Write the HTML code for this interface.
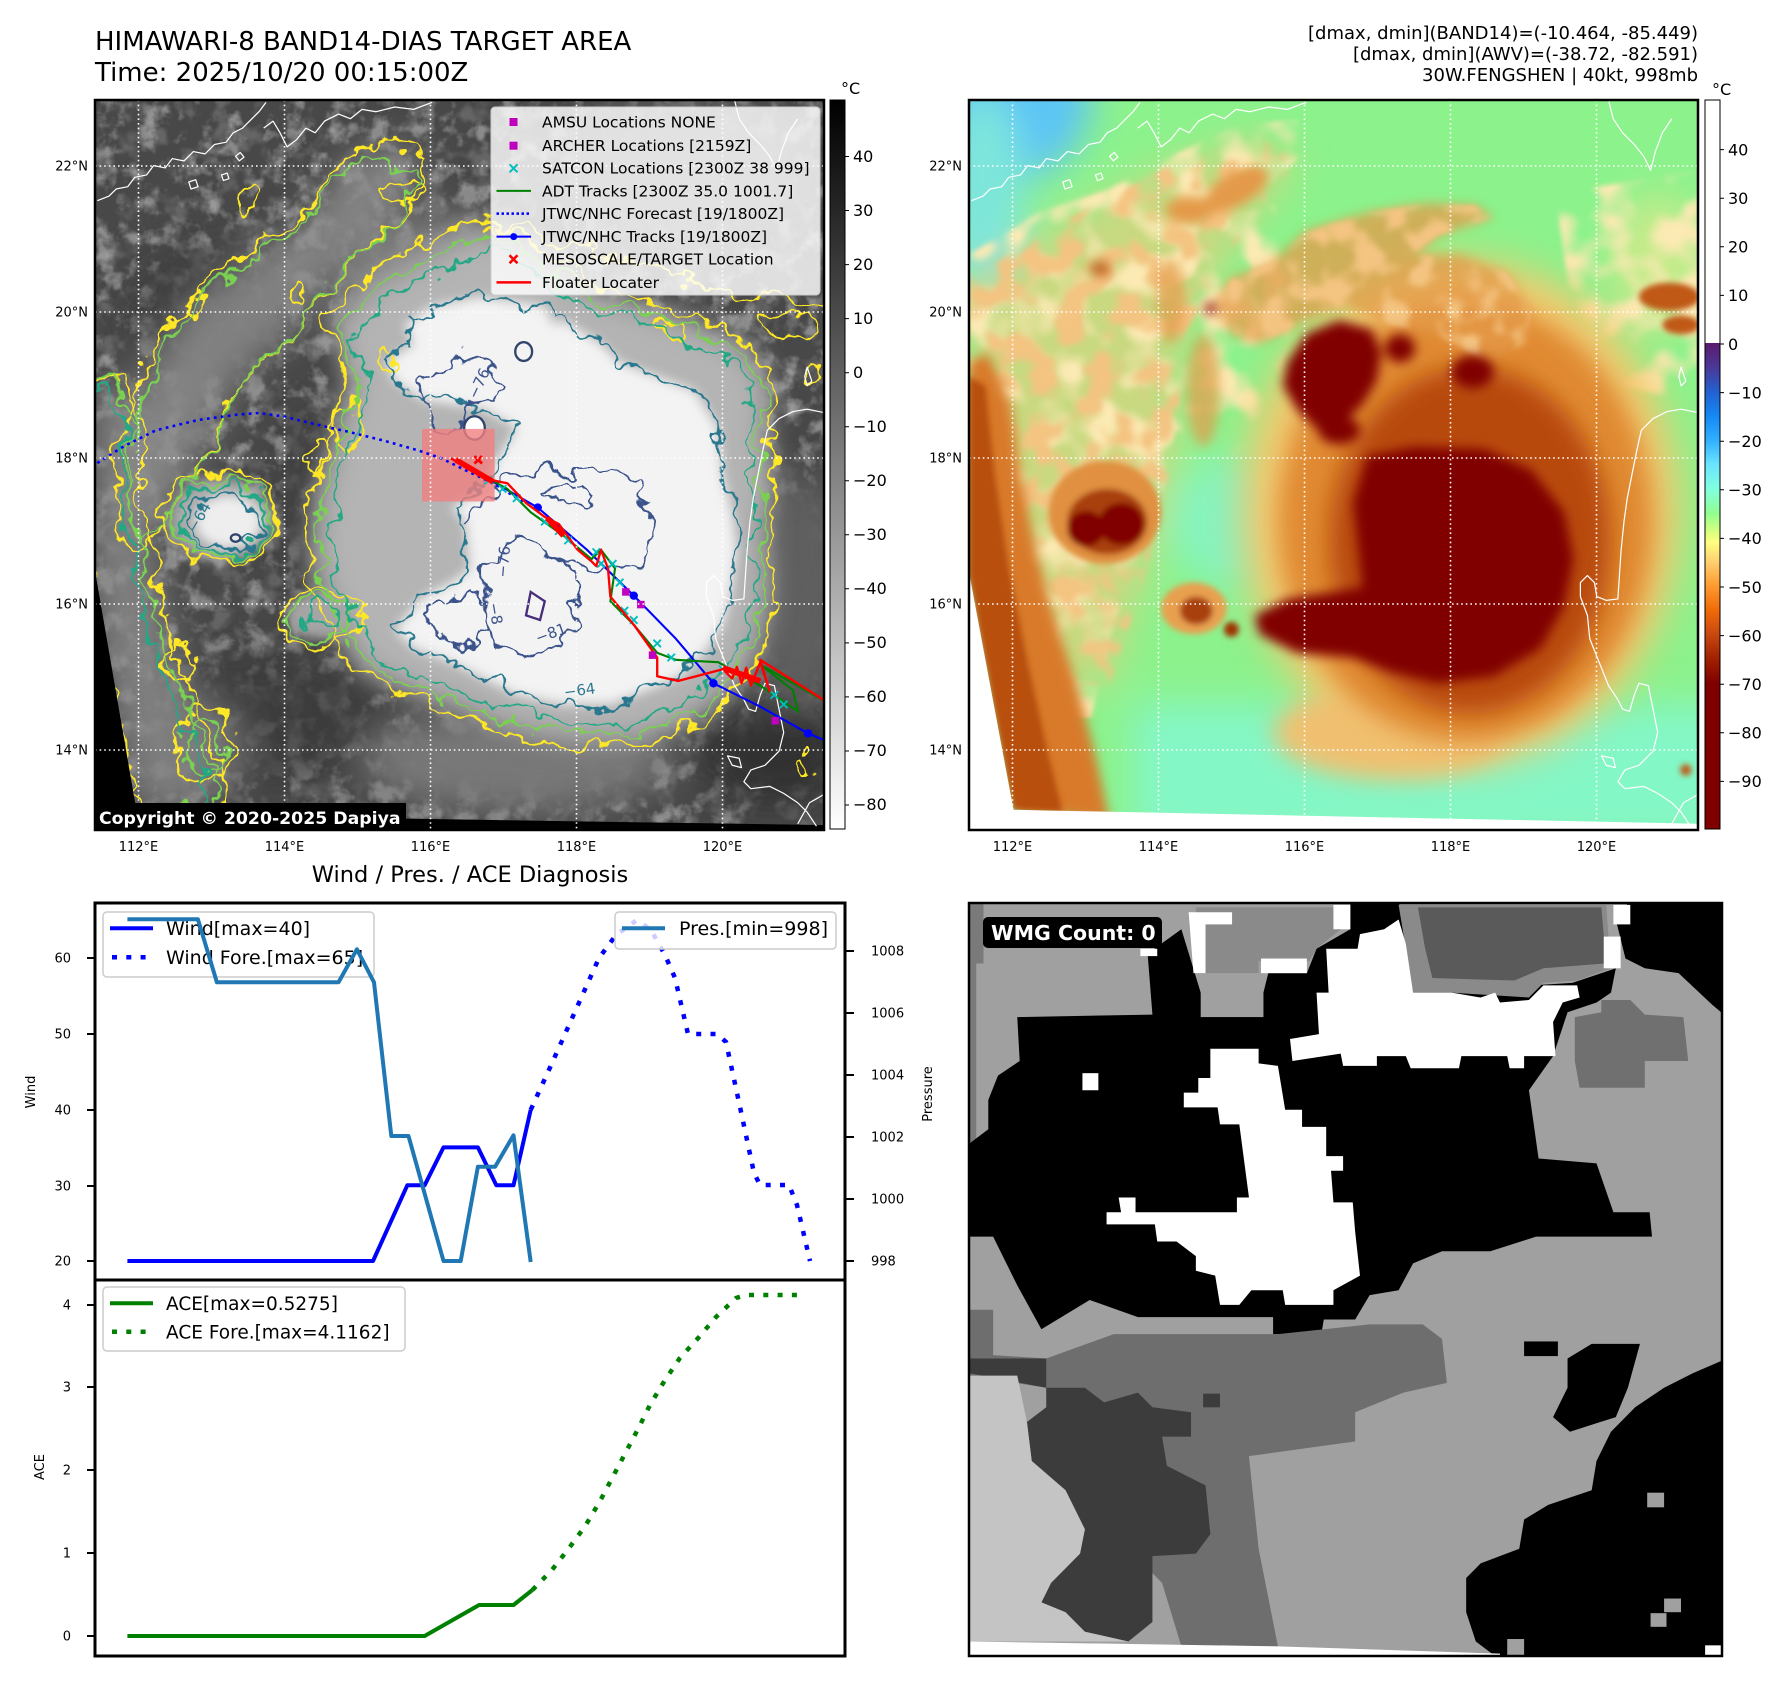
<!DOCTYPE html>
<html><head><meta charset="utf-8">
<style>
html,body{margin:0;padding:0;background:#fff;}
svg{display:block;}
text{font-family:"DejaVu Sans","Liberation Sans",sans-serif;}
</style></head><body>
<svg width="1788" height="1690" viewBox="0 0 1788 1690" xmlns="http://www.w3.org/2000/svg">
<defs>
 <clipPath id="cL"><rect x="95" y="100" width="729" height="730"/></clipPath>
 <clipPath id="cR"><rect x="969" y="100" width="729" height="730"/></clipPath>
 <clipPath id="cW"><rect x="969" y="903" width="753" height="753"/></clipPath>
 <filter id="b40" x="-50%" y="-50%" width="200%" height="200%"><feGaussianBlur stdDeviation="40"/></filter>
 <filter id="b25" x="-50%" y="-50%" width="200%" height="200%"><feGaussianBlur stdDeviation="25"/></filter>
 <filter id="b12" x="-30%" y="-30%" width="160%" height="160%"><feGaussianBlur stdDeviation="12"/></filter>
 <filter id="b6" x="-30%" y="-30%" width="160%" height="160%"><feGaussianBlur stdDeviation="6"/></filter>
 <filter id="rough" x="-5%" y="-5%" width="110%" height="110%">
  <feTurbulence type="fractalNoise" baseFrequency="0.018" numOctaves="3" seed="4" result="n"/>
  <feDisplacementMap in="SourceGraphic" in2="n" scale="70" xChannelSelector="R" yChannelSelector="G"/>
 </filter>
 <filter id="patchY" x="0" y="0" width="100%" height="100%">
  <feTurbulence type="fractalNoise" baseFrequency="0.012" numOctaves="2" seed="5" result="t"/>
  <feColorMatrix in="t" type="matrix" values="0 0 0 0 0.97  0 0 0 0 0.82  0 0 0 0 0.45  4 0 0 0 -1.75" result="c"/>
  <feComposite in="c" in2="SourceGraphic" operator="in" result="m"/>
  <feGaussianBlur in="m" stdDeviation="5"/>
 </filter>
 <filter id="patchO" x="0" y="0" width="100%" height="100%">
  <feTurbulence type="fractalNoise" baseFrequency="0.016" numOctaves="2" seed="9" result="t"/>
  <feColorMatrix in="t" type="matrix" values="0 0 0 0 0.9  0 0 0 0 0.55  0 0 0 0 0.22  5 0 0 0 -2.3" result="c"/>
  <feComposite in="c" in2="SourceGraphic" operator="in" result="m"/>
  <feGaussianBlur in="m" stdDeviation="5"/>
 </filter>
 <filter id="patchG" x="0" y="0" width="100%" height="100%">
  <feTurbulence type="fractalNoise" baseFrequency="0.022" numOctaves="4" seed="13" result="t"/>
  <feColorMatrix in="t" type="matrix" values="0 0 0 0 0.6  0 0 0 0 0.6  0 0 0 0 0.6  4 0 0 0 -2.0" result="c"/>
  <feComposite in="c" in2="SourceGraphic" operator="in"/>
 </filter>
 <filter id="patchD" x="0" y="0" width="100%" height="100%">
  <feTurbulence type="fractalNoise" baseFrequency="0.02" numOctaves="3" seed="21" result="t"/>
  <feColorMatrix in="t" type="matrix" values="0 0 0 0 0.17  0 0 0 0 0.17  0 0 0 0 0.17  -4 0 0 0 2.0" result="c"/>
  <feComposite in="c" in2="SourceGraphic" operator="in"/>
 </filter>
 <linearGradient id="g1" x1="0" y1="0" x2="0" y2="1">
  <stop offset="0" stop-color="#000"/><stop offset="1" stop-color="#fff"/>
 </linearGradient>
 <linearGradient id="g2" x1="0" y1="0" x2="0" y2="1">
  <stop offset="0" stop-color="#fff"/><stop offset="0.333" stop-color="#fff"/>
  <stop offset="0.3335" stop-color="#5c1a6e"/><stop offset="0.3667" stop-color="#4a3898"/>
  <stop offset="0.4" stop-color="#2460d0"/><stop offset="0.4333" stop-color="#1488f4"/>
  <stop offset="0.4667" stop-color="#30b0ff"/><stop offset="0.5" stop-color="#6ae4ff"/>
  <stop offset="0.5333" stop-color="#80ffe0"/><stop offset="0.5667" stop-color="#90ff90"/>
  <stop offset="0.5867" stop-color="#c8ff80"/><stop offset="0.6067" stop-color="#ffff80"/>
  <stop offset="0.6333" stop-color="#ffd070"/><stop offset="0.6667" stop-color="#ff9a30"/>
  <stop offset="0.7" stop-color="#f06a08"/><stop offset="0.7333" stop-color="#c84810"/>
  <stop offset="0.7667" stop-color="#a02000"/><stop offset="0.8" stop-color="#800000"/>
  <stop offset="1" stop-color="#800000"/>
 </linearGradient>
 <g id="coast" fill="none" stroke="#fff" stroke-width="2.6" stroke-linejoin="round">
  <path d="M5,215 L30,205 L45,190 L70,185 L85,165 L110,160 L125,140 L150,145 L165,125 L190,130 L210,110 L235,115 L255,95 L280,90 L295,70 L315,60 L335,40 L350,25 L365,5"/>
  <path d="M360,60 L380,45 L395,70 L410,100 L430,85 L450,60 L470,70 L490,45 L520,30 L545,40 L570,20 L600,25 L640,15 L680,20 L720,5"/>
  <path d="M200,175 l15,-5 l5,15 l-15,5 Z M300,120 l10,-8 l8,10 l-10,8Z M270,160 l12,-4 l4,12 l-12,4Z"/>
  <path d="M1365,0 L1375,40 L1395,70 L1420,95 L1440,120 L1455,150 L1465,110 L1480,70 L1500,40"/>
  <path d="M1560,668 L1520,660 L1490,665 L1460,680 L1435,705 L1425,750 L1415,800 L1405,850 L1398,900 L1392,960 L1388,1020 L1385,1065 L1360,1068 L1340,1060 L1335,1030 L1320,1015 L1305,1030 L1305,1060 L1320,1100 L1325,1150 L1345,1200 L1365,1250 L1385,1280 L1395,1300 L1410,1305 L1420,1270 L1430,1245 L1450,1250 L1460,1300 L1470,1350 L1460,1390 L1430,1420 L1400,1430 L1385,1455 L1400,1470 L1440,1465 L1470,1480 L1500,1500 L1520,1520 L1540,1550"/>
  <path d="M1350,1400 L1375,1405 L1380,1425 L1360,1420 Z M1520,570 L1530,600 L1520,610 L1515,590 Z M1500,1545 L1525,1500 L1560,1480"/>
 </g>
</defs>
<rect width="1788" height="1690" fill="#fff"/>

<!-- Titles -->
<text x="95" y="50" font-size="26">HIMAWARI-8 BAND14-DIAS TARGET AREA</text>
<text x="95" y="81" font-size="26">Time: 2025/10/20 00:15:00Z</text>
<g font-size="18" text-anchor="end">
 <text x="1698" y="39">[dmax, dmin](BAND14)=(-10.464, -85.449)</text>
 <text x="1698" y="60">[dmax, dmin](AWV)=(-38.72, -82.591)</text>
 <text x="1698" y="81">30W.FENGSHEN | 40kt, 998mb</text>
</g>

<!-- ============ TOP-LEFT GRAY MAP ============ -->
<g clip-path="url(#cL)">
 <g transform="translate(95,100) scale(0.4685)">
  <rect x="-20" y="-20" width="1620" height="1620" fill="#484848"/>
  <rect x="0" y="0" width="1560" height="1560" fill="#000" filter="url(#patchD)" opacity="0.7"/>
  <rect x="0" y="0" width="1560" height="1560" fill="#000" filter="url(#patchG)" opacity="0.5"/>
  <g filter="url(#b40)">
   <ellipse cx="260" cy="470" rx="170" ry="140" fill="#323232" opacity="0.8"/>
   <ellipse cx="520" cy="880" rx="110" ry="200" fill="#353535" opacity="0.8"/>
   <ellipse cx="380" cy="1320" rx="230" ry="140" fill="#373737" opacity="0.7"/>
   <ellipse cx="1450" cy="1400" rx="160" ry="110" fill="#303030"/>
   <ellipse cx="1250" cy="150" rx="260" ry="140" fill="#5e5e5e"/>
   <path d="M40,760 L120,570 L200,440 L320,350 L440,270 L530,140 L620,90 L710,130 L660,230 L560,310 L470,430 L380,530 L300,600 L250,700 L190,820 L120,930 L60,960 Z" fill="#8e8e8e" opacity="0.85"/>
   <path d="M560,300 L700,250 L820,250 L860,330 L800,420 L700,470 L600,500 L530,450 Z" fill="#858585" opacity="0.85"/>
   <path d="M0,600 L80,620 L110,760 L110,900 L140,1050 L170,1200 L230,1320 L280,1480 L150,1520 L90,1520 L40,1300 L0,1100 Z" fill="#8a8a8a" opacity="0.85"/>
   <ellipse cx="220" cy="1380" rx="90" ry="90" fill="#7c7c7c"/>
   <ellipse cx="900" cy="1410" rx="330" ry="110" fill="#787878"/>
   <ellipse cx="1500" cy="1050" rx="120" ry="250" fill="#5e5e5e"/>
  </g>
  <path filter="url(#b25)" d="M560,1220 L480,1090 L450,960 L465,830 L505,700 L540,590 L495,470 L575,375 L690,315 L800,255 L880,275 L960,325 L1060,395 L1180,430 L1300,470 L1400,520 L1450,600 L1440,700 L1455,800 L1440,920 L1450,1050 L1430,1150 L1400,1230 L1330,1300 L1250,1350 L1150,1380 L1050,1380 L950,1370 L850,1340 L750,1300 L640,1260 Z" fill="#9a9a9a"/>
  <path filter="url(#b25)" transform="translate(1000,900) scale(0.93) translate(-1000,-900)" d="M560,1220 L480,1090 L450,960 L465,830 L505,700 L540,590 L495,470 L575,375 L690,315 L800,255 L880,275 L960,325 L1060,395 L1180,430 L1300,470 L1400,520 L1450,600 L1440,700 L1455,800 L1440,920 L1450,1050 L1430,1150 L1400,1230 L1330,1300 L1250,1350 L1150,1380 L1050,1380 L950,1370 L850,1340 L750,1300 L640,1260 Z" fill="#b4b4b4"/>
  <path filter="url(#b12)" d="M640,1130 L700,1060 L760,1030 L800,1000 L790,900 L760,870 L830,830 L850,780 L900,700 L830,660 L700,640 L640,600 L620,560 L680,520 L660,480 L720,440 L820,420 L900,430 L960,440 L980,480 L1000,470 L1080,520 L1120,560 L1200,590 L1280,620 L1330,700 L1340,800 L1360,880 L1370,960 L1360,1040 L1340,1120 L1300,1180 L1250,1230 L1180,1260 L1100,1290 L1000,1290 L900,1270 L820,1230 L760,1200 L680,1170 Z" fill="#f3f3f3"/>
  <g filter="url(#b12)">
   <ellipse cx="270" cy="895" rx="110" ry="90" fill="#aaaaaa"/>
   <ellipse cx="285" cy="900" rx="70" ry="55" fill="#eeeeee"/>
   <ellipse cx="480" cy="1100" rx="70" ry="50" fill="#a5a5a5"/>
  </g>
  <g filter="url(#rough)" fill="none" stroke-width="5" stroke-linejoin="round">
   <g stroke="#fde725">
    <path id="y1" d="M560,1220 L480,1090 L450,960 L465,830 L505,700 L540,590 L495,470 L575,375 L690,315 L800,255 L880,275 L960,325 L1060,395 L1180,430 L1300,470 L1400,520 L1450,600 L1440,700 L1455,800 L1440,920 L1450,1050 L1430,1150 L1400,1230 L1330,1300 L1250,1350 L1150,1380 L1050,1380 L950,1370 L850,1340 L750,1300 L640,1260 Z"/>
    <path id="y2" d="M40,760 L110,570 L190,430 L310,340 L430,260 L520,130 L620,85 L715,130 L665,235 L565,315 L475,435 L385,535 L305,605 L255,705 L195,825 L125,935 L60,965 Z"/>
    <path id="y3" d="M0,610 L70,600 L105,720 L100,860 L130,1010 L160,1160 L220,1290 L270,1420 L280,1500 L200,1515 L100,1515 L50,1320 L10,1150 L0,1000"/>
    <path d="M820,280 L900,270 L1000,300 L1100,330 L1200,350 L1300,400 L1400,420 L1500,430 L1560,440"/>
    <ellipse cx="265" cy="890" rx="120" ry="95"/>
    <ellipse cx="480" cy="1105" rx="85" ry="60"/>
    <ellipse cx="320" cy="210" rx="22" ry="28"/><ellipse cx="660" cy="195" rx="40" ry="22"/>
    <ellipse cx="440" cy="410" rx="14" ry="14"/><ellipse cx="210" cy="440" rx="30" ry="20"/>
    <ellipse cx="620" cy="560" rx="20" ry="30"/><ellipse cx="540" cy="700" rx="25" ry="60"/>
    <ellipse cx="470" cy="760" rx="20" ry="40"/><ellipse cx="1230" cy="490" rx="20" ry="15"/>
    <ellipse cx="1530" cy="580" rx="15" ry="25"/><ellipse cx="1520" cy="1420" rx="15" ry="25"/>
    <ellipse cx="180" cy="1200" rx="40" ry="30"/><ellipse cx="230" cy="1380" rx="60" ry="80"/>
    <ellipse cx="1480" cy="480" rx="60" ry="25"/>
   </g>
   <g stroke="#7ad151">
    <use href="#y1" transform="translate(1000,900) scale(0.95) translate(-1000,-900)"/>
    <use href="#y2" transform="translate(380,520) scale(0.92) translate(-380,-520)"/>
    <use href="#y3" transform="translate(-22,0)"/>
    <ellipse cx="268" cy="892" rx="105" ry="82"/>
    <ellipse cx="480" cy="1105" rx="70" ry="48"/>
    <ellipse cx="230" cy="1380" rx="45" ry="60"/>
   </g>
   <g stroke="#22a884">
    <use href="#y1" transform="translate(1000,900) scale(0.9) translate(-1000,-900)"/>
    <use href="#y3" transform="translate(-40,15)"/>
    <ellipse cx="270" cy="895" rx="92" ry="72"/>
    <ellipse cx="482" cy="1100" rx="40" ry="30"/>
   </g>
   <g stroke="#2a788e">
    <path d="M640,1130 L700,1060 L760,1030 L800,1000 L790,900 L760,870 L830,830 L850,780 L900,700 L830,660 L700,640 L640,600 L620,560 L680,520 L660,480 L720,440 L820,420 L900,430 L960,440 L980,480 L1000,470 L1080,520 L1120,560 L1200,590 L1280,620 L1330,700 L1340,800 L1360,880 L1370,960 L1360,1040 L1340,1120 L1300,1180 L1250,1230 L1180,1260 L1100,1290 L1000,1290 L900,1270 L820,1230 L760,1200 L680,1170 Z"/>
    <ellipse cx="272" cy="898" rx="78" ry="58"/>
   </g>
   <g stroke="#3b528b">
    <path d="M700,600 L740,560 L800,545 L850,555 L865,600 L840,640 L800,660 L760,700 L720,690 L705,650 Z"/>
    <path d="M820,1000 L850,960 L900,940 L960,950 L1000,980 L1030,1050 L1020,1120 L990,1170 L930,1190 L870,1170 L840,1120 L835,1060 Z"/>
    <path d="M710,1100 L740,1065 L800,1055 L835,1080 L840,1130 L810,1165 L760,1170 L720,1140 Z"/>
    <path d="M965,830 L1000,805 L1040,815 L1055,850 L1030,870 L985,865 Z"/>
    <path d="M800,900 L860,820 L950,790 L1060,790 L1150,810 L1180,870 L1200,940 L1170,1000 L1110,990 L1060,1010 L1000,980"/>
   </g>
  </g>
  <g fill="none" stroke="#31446b" stroke-width="5">
   <ellipse cx="915" cy="537" rx="18" ry="20"/>
   <ellipse cx="810" cy="700" rx="22" ry="25" fill="#fff"/>
   <ellipse cx="300" cy="935" rx="10" ry="8"/>
   <path d="M930,1050 L960,1070 L950,1110 L920,1100 Z" stroke="#472d7b"/>
  </g>
  <g font-size="32" fill="#3b528b">
   <text transform="translate(815,640) rotate(-65)">−76</text>
   <text transform="translate(880,1020) rotate(-85)">−76</text>
   <text transform="translate(945,1160) rotate(-20)">−81</text>
   <text transform="translate(840,1075) rotate(80)">−8</text>
   <text x="1000" y="1270" fill="#2a788e" transform="rotate(-8 1040 1255)">−64</text>
   <text transform="translate(215,925) rotate(-60)" fill="#2a788e">−64</text>
  </g>
  <path d="M0,1005 L90,1525 L1570,1548 L1570,1580 L-10,1580 Z" fill="#000"/>
  <use href="#coast"/>
  <rect x="698" y="702" width="155" height="155" fill="#f08080" opacity="0.8"/>
  <polyline points="5,775 60,740 130,705 220,683 300,672 350,668 400,675 470,692 540,708 620,728 690,748 740,765 790,790 850,818 920,862" fill="none" stroke="#0000ff" stroke-width="5.5" stroke-dasharray="6 9"/>
  <polyline points="760,765 850,815 945,870 1050,960 1150,1058 1240,1150 1320,1245 1420,1295 1522,1352 1570,1372" fill="none" stroke="#0000ff" stroke-width="4.5"/>
  <g fill="#0000ff"><circle cx="945" cy="870" r="9"/><circle cx="1150" cy="1058" r="9"/><circle cx="1320" cy="1245" r="9"/><circle cx="1522" cy="1352" r="9"/></g>
  <polyline points="770,770 880,830 930,880 1000,930 1060,980 1080,960 1110,1000 1100,1070 1150,1120 1200,1180 1240,1195 1330,1200 1420,1250 1500,1305 1490,1260 1420,1205 1570,1290" fill="none" stroke="#008000" stroke-width="4.5"/>
  <g stroke="#00bfbf" stroke-width="4" fill="none">
   <path d="M832,804 l16,16 m0,-16 l-16,16 M862,822 l16,16 m0,-16 l-16,16 M892,842 l16,16 m0,-16 l-16,16 M952,892 l16,16 m0,-16 l-16,16 M982,912 l16,16 m0,-16 l-16,16 M1002,932 l16,16 m0,-16 l-16,16 M1062,957 l16,16 m0,-16 l-16,16 M1072,982 l16,16 m0,-16 l-16,16 M1097,982 l16,16 m0,-16 l-16,16 M1112,1022 l16,16 m0,-16 l-16,16 M1122,1082 l16,16 m0,-16 l-16,16 M1142,1102 l16,16 m0,-16 l-16,16 M1192,1152 l16,16 m0,-16 l-16,16 M1222,1182 l16,16 m0,-16 l-16,16 M1332,1207 l16,16 m0,-16 l-16,16 M1442,1262 l16,16 m0,-16 l-16,16 M1462,1282 l16,16 m0,-16 l-16,16"/>
  </g>
  <polyline points="760,765 850,812 880,818 920,860 960,890 990,905 1030,960 1060,985 1070,995 1080,960 1095,1000 1100,1060 1150,1120 1200,1190 1200,1230 1245,1240 1340,1215 1360,1235 1370,1210 1380,1245 1390,1212 1400,1250 1420,1200 1440,1262 1420,1195 1570,1290" fill="none" stroke="#ff0000" stroke-width="5" stroke-linejoin="round"/>
  <path d="M770,768 L850,815 M965,892 L1000,930 M1340,1212 L1420,1240" stroke="#ff0000" stroke-width="12" fill="none"/>
  <g fill="#bf00bf"><rect x="1125" y="1042" width="16" height="16"/><rect x="1157" y="1069" width="16" height="16"/><rect x="1182" y="1177" width="16" height="16"/><rect x="1444" y="1317" width="16" height="16"/></g>
  <path d="M810,760 l16,16 m0,-16 l-16,16" stroke="#ff0000" stroke-width="6"/>
 </g>
 <g stroke="#fff" stroke-width="1.6" stroke-dasharray="1.6 3">
  <path d="M95,166H824M95,312H824M95,458H824M95,604H824M95,750H824"/>
  <path d="M138.5,100V830M284.5,100V830M430.5,100V830M576.5,100V830M722.5,100V830"/>
 </g>
</g>
<rect x="491" y="107" width="329" height="188" rx="4" fill="#fff" fill-opacity="0.82" stroke="#cccccc" stroke-width="1"/>
<g font-size="15.5" fill="#000">
 <text x="542" y="127.5">AMSU Locations NONE</text>
 <text x="542" y="151">ARCHER Locations [2159Z]</text>
 <text x="542" y="173.5">SATCON Locations [2300Z 38 999]</text>
 <text x="542" y="196.5">ADT Tracks [2300Z 35.0 1001.7]</text>
 <text x="542" y="219">JTWC/NHC Forecast [19/1800Z]</text>
 <text x="542" y="242">JTWC/NHC Tracks [19/1800Z]</text>
 <text x="542" y="264.5">MESOSCALE/TARGET Location</text>
 <text x="542" y="288">Floater Locater</text>
</g>
<rect x="509.5" y="118" width="8" height="8" fill="#bf00bf"/>
<rect x="509.5" y="141.7" width="8" height="8" fill="#bf00bf"/>
<path d="M509.5,164.3 l8,8 m0,-8 l-8,8" stroke="#00bfbf" stroke-width="2"/>
<line x1="496.5" y1="190.9" x2="531" y2="190.9" stroke="#008000" stroke-width="2"/>
<line x1="496.5" y1="213.6" x2="531" y2="213.6" stroke="#0000ff" stroke-width="2.5" stroke-dasharray="2.5 2.5"/>
<line x1="496.5" y1="236.6" x2="531" y2="236.6" stroke="#0000ff" stroke-width="2"/>
<circle cx="513.7" cy="236.6" r="3.5" fill="#0000ff"/>
<path d="M509.5,255.3 l8,8 m0,-8 l-8,8" stroke="#ff0000" stroke-width="2.5"/>
<line x1="496.5" y1="282.4" x2="531" y2="282.4" stroke="#ff0000" stroke-width="2.5"/>
<rect x="95" y="803" width="311" height="27" fill="#000"/>
<text x="99" y="824" font-size="17.3" font-weight="bold" fill="#fff">Copyright © 2020-2025 Dapiya</text>
<rect x="95" y="100" width="729" height="730" fill="none" stroke="#000" stroke-width="2.5"/>

<g font-size="13" text-anchor="end">
 <text x="88" y="170.5">22°N</text><text x="88" y="316.5">20°N</text><text x="88" y="462.5">18°N</text><text x="88" y="608.5">16°N</text><text x="88" y="754.5">14°N</text>
 <text x="962" y="170.5">22°N</text><text x="962" y="316.5">20°N</text><text x="962" y="462.5">18°N</text><text x="962" y="608.5">16°N</text><text x="962" y="754.5">14°N</text>
</g>
<g font-size="13" text-anchor="middle">
 <text x="138.5" y="851">112°E</text><text x="284.5" y="851">114°E</text><text x="430.5" y="851">116°E</text><text x="576.5" y="851">118°E</text><text x="722.5" y="851">120°E</text>
 <text x="1012.5" y="851">112°E</text><text x="1158.5" y="851">114°E</text><text x="1304.5" y="851">116°E</text><text x="1450.5" y="851">118°E</text><text x="1596.5" y="851">120°E</text>
</g>

<rect x="830" y="100" width="15" height="729" fill="url(#g1)" stroke="#000" stroke-width="1"/>
<text x="841" y="94" font-size="16">°C</text>
<g stroke="#000" stroke-width="1">
 <path d="M845,156.5h4M845,210.5h4M845,264.6h4M845,318.6h4M845,372.7h4M845,426.7h4M845,480.7h4M845,534.8h4M845,588.8h4M845,642.9h4M845,696.9h4M845,751h4M845,805h4"/>
</g>
<g font-size="16">
 <text x="853" y="162">40</text><text x="853" y="216">30</text><text x="853" y="270">20</text><text x="853" y="324">10</text><text x="853" y="378">0</text>
 <text x="853" y="432">−10</text><text x="853" y="486">−20</text><text x="853" y="540">−30</text><text x="853" y="594">−40</text><text x="853" y="648">−50</text>
 <text x="853" y="702">−60</text><text x="853" y="756">−70</text><text x="853" y="810">−80</text>
</g>

<!-- ============ TOP-RIGHT COLOR MAP ============ -->
<g clip-path="url(#cR)">
 <g transform="translate(969,100) scale(0.4685)">
  <rect x="-20" y="-20" width="1620" height="1620" fill="#8cf28c"/>
  <g filter="url(#b40)">
   <ellipse cx="0" cy="0" rx="260" ry="200" fill="#5cc4f6"/>
   <ellipse cx="30" cy="200" rx="90" ry="220" fill="#7ee6da"/>
   <rect x="350" y="1290" width="1300" height="300" fill="#84f7c6"/>
   <ellipse cx="560" cy="900" rx="130" ry="140" fill="#86f4c0"/>
   <ellipse cx="1470" cy="350" rx="100" ry="150" fill="#eee68a" opacity="0.6"/>
   <path d="M0,380 L200,260 L430,140 L620,80 L700,130 L560,320 L460,500 L440,750 L380,1000 L300,1250 L150,1250 L40,1000 L0,700 Z" fill="#f0c878" opacity="0.6"/>
  </g>
  <path filter="url(#patchY)" d="M0,330 L150,240 L300,190 L430,120 L560,60 L700,40 L720,110 L620,200 L520,300 L450,420 L420,560 L440,700 L420,820 L350,1000 L300,1150 L260,1320 L150,1320 L60,1150 L20,900 L0,700 Z" fill="#000"/>
  <path filter="url(#patchY)" d="M1250,200 L1560,150 L1560,650 L1350,600 L1280,400 Z" fill="#000"/>
  <path filter="url(#patchY)" d="M380,300 L650,220 L700,400 L650,700 L560,760 L430,700 Z" fill="#000"/>
  <path filter="url(#patchO)" d="M0,380 L200,260 L430,140 L620,80 L700,130 L560,320 L460,500 L440,750 L380,1000 L300,1250 L150,1250 L40,1000 L0,700 Z" fill="#000"/>
  <g filter="url(#b12)" fill="#e39a48">
   <ellipse cx="570" cy="190" rx="75" ry="35" transform="rotate(-30 570 190)"/>
   <ellipse cx="470" cy="235" rx="50" ry="30"/>
   <ellipse cx="430" cy="430" rx="30" ry="90" opacity="0.7"/>
   <ellipse cx="500" cy="620" rx="35" ry="120" opacity="0.7"/>
   <ellipse cx="280" cy="360" rx="22" ry="16" fill="#c06020"/>
  </g>
  <path filter="url(#b12)" d="M0,560 L40,540 L90,650 L110,800 L140,950 L180,1100 L230,1250 L270,1400 L300,1540 L95,1515 L0,1010 Z" fill="#d87a2a"/>
  <path filter="url(#b6)" d="M0,590 L35,610 L55,800 L85,1000 L125,1200 L170,1400 L200,1520 L95,1515 L0,1010 Z" fill="#b85010"/>
  <ellipse filter="url(#b40)" cx="1050" cy="880" rx="470" ry="540" fill="#f2c870"/>
  <ellipse filter="url(#b25)" cx="900" cy="1350" rx="250" ry="100" fill="#f0c070"/>
  <ellipse filter="url(#b25)" cx="1060" cy="900" rx="400" ry="470" fill="#e08a30"/>
  <path filter="url(#b12)" opacity="0.75" d="M640,350 L720,280 L850,240 L980,220 L1080,225 L1120,250 L1000,290 L950,330 L1050,330 L1150,370 L1200,450 L1190,520 L1100,560 L1000,500 L900,480 L800,440 L700,480 L620,520 L560,500 L520,440 L560,380 Z" fill="#e49a48"/>
  <path filter="url(#patchO)" d="M640,350 L720,280 L850,240 L980,220 L1080,225 L1120,250 L1000,290 L950,330 L1050,330 L1150,370 L1200,450 L1190,520 L1100,560 L1000,500 L900,480 L800,440 L700,480 L620,520 L560,500 L520,440 L560,380 Z" fill="#000"/>
  <ellipse filter="url(#b25)" cx="1070" cy="940" rx="300" ry="370" fill="#b84a10"/>
  <g filter="url(#b12)" fill="#800000">
   <path d="M850,760 L950,740 L1100,745 L1200,790 L1270,880 L1290,980 L1270,1080 L1220,1170 L1120,1230 L1000,1245 L900,1220 L820,1190 L700,1180 L620,1140 L610,1100 L680,1065 L780,1050 L840,1040 L830,950 L820,860 Z"/>
   <path d="M680,560 L720,500 L790,470 L860,490 L880,540 L870,600 L840,650 L800,690 L740,700 L700,660 L670,610 Z"/>
   <ellipse cx="920" cy="530" rx="32" ry="30"/>
   <ellipse cx="1075" cy="580" rx="45" ry="35"/>
   <ellipse cx="790" cy="705" rx="45" ry="30"/>
   <ellipse cx="515" cy="445" rx="12" ry="12"/>
  </g>
  <g filter="url(#b6)">
   <ellipse cx="290" cy="880" rx="120" ry="110" fill="#e09040"/>
   <ellipse cx="295" cy="900" rx="85" ry="70" fill="#a84010"/>
   <ellipse cx="250" cy="915" rx="40" ry="38" fill="#800000"/>
   <ellipse cx="325" cy="905" rx="48" ry="45" fill="#800000"/>
   <ellipse cx="480" cy="1085" rx="70" ry="55" fill="#e8a050"/>
   <ellipse cx="485" cy="1090" rx="35" ry="30" fill="#a84010"/>
   <ellipse cx="560" cy="1130" rx="16" ry="16" fill="#a03000"/>
   <ellipse cx="1495" cy="420" rx="65" ry="30" fill="#c05818"/>
   <ellipse cx="1520" cy="480" rx="40" ry="20" fill="#c05818"/>
   <ellipse cx="1530" cy="1430" rx="12" ry="12" fill="#c05818"/>
  </g>
  <path d="M0,1008 L95,1515 L1570,1545 L1570,1580 L-10,1580 Z" fill="#fff"/>
  <use href="#coast"/>
 </g>
 <g stroke="#fff" stroke-width="1.6" stroke-dasharray="1.6 3">
  <path d="M969,166H1698M969,312H1698M969,458H1698M969,604H1698M969,750H1698"/>
  <path d="M1012.5,100V830M1158.5,100V830M1304.5,100V830M1450.5,100V830M1596.5,100V830"/>
 </g>
</g>
<rect x="969" y="100" width="729" height="730" fill="none" stroke="#000" stroke-width="2.5"/>

<rect x="1705" y="100" width="15" height="729" fill="url(#g2)" stroke="#000" stroke-width="1"/>
<text x="1712" y="95" font-size="16">°C</text>
<g stroke="#000" stroke-width="1">
 <path d="M1720,149.6h4M1720,198.2h4M1720,246.8h4M1720,295.4h4M1720,344h4M1720,392.6h4M1720,441.2h4M1720,489.8h4M1720,538.4h4M1720,587h4M1720,635.6h4M1720,684.2h4M1720,732.8h4M1720,781.4h4"/>
</g>
<g font-size="16">
 <text x="1728" y="155.5">40</text><text x="1728" y="204">30</text><text x="1728" y="252.5">20</text><text x="1728" y="301">10</text><text x="1728" y="350">0</text>
 <text x="1728" y="398.5">−10</text><text x="1728" y="447">−20</text><text x="1728" y="495.5">−30</text><text x="1728" y="544">−40</text><text x="1728" y="593">−50</text>
 <text x="1728" y="641.5">−60</text><text x="1728" y="690">−70</text><text x="1728" y="738.5">−80</text><text x="1728" y="787">−90</text>
</g>

<!-- ============ WIND / PRES CHART ============ -->
<text x="470" y="882" font-size="22.5" text-anchor="middle">Wind / Pres. / ACE Diagnosis</text>
<polyline points="127.4,1261 373,1261 407.3,1185.3 424.6,1185.3 443.5,1147.4 477.9,1147.4 496.3,1185.3 513.5,1185.3 530.7,1109.8" fill="none" stroke="#0000ff" stroke-width="4" stroke-linejoin="round"/>
<polyline points="530.7,1109.8 548,1072 565,1034 582,996 599,958 616,935 637,920 651,930 665,955 675,978 688,1034 717,1034 726,1042 740,1107 754,1173 760,1185 789,1185 797,1205 810,1261" fill="none" stroke="#0000ff" stroke-width="4.5" stroke-dasharray="5 9.3"/>
<rect x="103" y="912" width="271" height="65" rx="4" fill="#fff" fill-opacity="0.8" stroke="#cccccc" stroke-width="1.5"/>
<line x1="110" y1="928.3" x2="153" y2="928.3" stroke="#0000ff" stroke-width="4"/>
<line x1="112" y1="957.3" x2="153" y2="957.3" stroke="#0000ff" stroke-width="4.5" stroke-dasharray="5 9.3"/>
<text x="166" y="935" font-size="19">Wind[max=40]</text>
<text x="166" y="964" font-size="19">Wind Fore.[max=65]</text>
<polyline points="127.4,919.3 197.9,919.3 216.9,982.3 338.5,982.3 356.9,949.3 374,982.3 391.3,1136 408.5,1136 443.5,1261 460.7,1261 477.9,1166.7 495.1,1166.7 513.5,1135.3 530.7,1262" fill="none" stroke="#1f77b4" stroke-width="4" stroke-linejoin="round"/>
<rect x="615" y="912" width="221" height="37" rx="4" fill="#fff" fill-opacity="0.8" stroke="#cccccc" stroke-width="1.5"/>
<line x1="622" y1="928.3" x2="665" y2="928.3" stroke="#1f77b4" stroke-width="4"/>
<text x="679" y="935" font-size="19">Pres.[min=998]</text>
<rect x="95" y="903" width="750" height="377" fill="none" stroke="#000" stroke-width="3"/>
<g stroke="#000" stroke-width="2">
 <path d="M87,958h8M87,1034h8M87,1110h8M87,1186h8M87,1261h8"/>
 <path d="M845,951h9M845,1013h9M845,1075h9M845,1137h9M845,1199h9M845,1261h9"/>
</g>
<g font-size="13" text-anchor="end">
 <text x="71" y="962.5">60</text><text x="71" y="1038.5">50</text><text x="71" y="1114.5">40</text><text x="71" y="1190.5">30</text><text x="71" y="1265.5">20</text>
</g>
<g font-size="13">
 <text x="871" y="955.5">1008</text><text x="871" y="1017.5">1006</text><text x="871" y="1079.5">1004</text><text x="871" y="1141.5">1002</text><text x="871" y="1203.5">1000</text><text x="871" y="1265.5">998</text>
</g>
<text transform="translate(35,1092) rotate(-90)" font-size="13" text-anchor="middle">Wind</text>
<text transform="translate(932,1094) rotate(-90)" font-size="13" text-anchor="middle">Pressure</text>

<!-- ============ ACE CHART ============ -->
<polyline points="127.4,1636 424.6,1636 479.1,1605 513.5,1605 532.4,1590" fill="none" stroke="#008000" stroke-width="4" stroke-linejoin="round"/>
<polyline points="532.4,1590 551.9,1570 569.1,1548 585.2,1526 599.5,1502 612.7,1477 625.4,1453 638,1429 650,1405 664.4,1381 679.9,1358 698.2,1338 716,1317 736.1,1298 745.8,1295 806.1,1295" fill="none" stroke="#008000" stroke-width="4.5" stroke-dasharray="5 9.3"/>
<rect x="103" y="1287" width="302" height="64" rx="4" fill="#fff" fill-opacity="0.8" stroke="#cccccc" stroke-width="1.5"/>
<line x1="110" y1="1303.3" x2="153" y2="1303.3" stroke="#008000" stroke-width="4"/>
<line x1="112" y1="1331.7" x2="153" y2="1331.7" stroke="#008000" stroke-width="4.5" stroke-dasharray="5 9.3"/>
<text x="166" y="1310" font-size="18.5">ACE[max=0.5275]</text>
<text x="166" y="1338.5" font-size="18.5">ACE Fore.[max=4.1162]</text>
<rect x="95" y="1280" width="750" height="376" fill="none" stroke="#000" stroke-width="3"/>
<g stroke="#000" stroke-width="2"><path d="M87,1305h8M87,1387h8M87,1470h8M87,1553h8M87,1636h8"/></g>
<g font-size="13" text-anchor="end">
 <text x="71" y="1309.5">4</text><text x="71" y="1391.5">3</text><text x="71" y="1474.5">2</text><text x="71" y="1557.5">1</text><text x="71" y="1640.5">0</text>
</g>
<text transform="translate(44,1467) rotate(-90)" font-size="13" text-anchor="middle">ACE</text>

<!-- ============ WMG PANEL ============ -->
<g clip-path="url(#cW)">
 <g transform="translate(969,900) scale(0.4827,0.4878)">
  <rect x="0" y="0" width="1570" height="1570" fill="#a0a0a0"/>
  <rect x="0" y="0" width="30" height="130" fill="#7a7a7a"/>
  <rect x="0" y="100" width="15" height="400" fill="#7a7a7a"/>
  <path fill="#000" d="M100,240 L380,235 L370,110 L440,60 L480,190 L610,190 L620,150 L700,150 L720,100 L790,60 L790,0 L890,0 L920,190 L1250,170 L1340,140 L1330,190 L1300,210 L1240,230 L1210,320 L1160,390 L1180,530 L1300,540 L1335,640 L1410,640 L1415,690 L1175,690 L1080,720 L980,720 L920,745 L890,800 L830,810 L800,860 L735,860 L730,890 L630,890 L630,855 L350,855 L250,820 L150,880 L100,790 L50,690 L0,690 L0,500 L40,470 L40,410 L60,360 L105,330 Z"/>
  <path fill="#8a8a8a" d="M470,15 L760,15 L770,60 L720,100 L705,125 L600,125 L600,150 L470,150 Z"/>
  <path fill="#8a8a8a" d="M890,10 L1320,10 L1330,140 L1260,165 L1190,170 L1160,200 L1000,190 L920,190 Z"/>
  <path fill="#5a5a5a" d="M930,15 L1310,15 L1320,130 L1190,140 L1130,165 L960,160 L945,100 Z"/>
  <rect x="480" y="185" width="130" height="55" fill="#a0a0a0"/>
  <path fill="#000" d="M1370,0 L1570,0 L1570,240 L1540,215 L1470,150 L1400,140 L1360,120 L1340,40 Z"/>
  <path fill="#707070" d="M1255,240 L1310,230 L1310,205 L1370,205 L1400,235 L1480,240 L1490,330 L1400,330 L1400,385 L1265,385 L1255,330 Z"/>
  <g fill="#fff">
   <path d="M500,305 L600,305 L600,335 L640,340 L655,430 L690,430 L690,465 L740,465 L740,525 L775,525 L775,555 L750,555 L755,620 L795,620 L800,680 L810,770 L755,800 L755,830 L655,830 L650,800 L585,800 L560,830 L520,830 L510,770 L470,760 L470,730 L430,700 L390,700 L385,665 L285,665 L285,640 L315,640 L310,610 L345,610 L345,640 L555,640 L555,610 L580,610 L560,460 L520,460 L515,425 L445,425 L445,395 L475,395 L475,365 L500,365 Z"/>
   <path d="M720,190 L745,190 L740,100 L805,100 L810,70 L860,60 L890,40 L905,90 L920,190 L1000,190 L1060,200 L1090,190 L1100,210 L1160,205 L1190,175 L1260,175 L1265,200 L1230,210 L1210,250 L1215,320 L1150,320 L1150,345 L1120,345 L1115,320 L1020,320 L1015,345 L915,345 L905,320 L845,320 L845,340 L775,340 L770,315 L670,330 L665,285 L725,275 Z"/>
   <rect x="235" y="355" width="33" height="35"/><rect x="755" y="10" width="35" height="50"/>
   <rect x="1335" y="10" width="35" height="40"/><rect x="1315" y="75" width="35" height="65"/>
   <path d="M455,25 L545,25 L545,50 L490,50 L490,150 L465,150 Z"/>
   <rect x="605" y="120" width="95" height="30"/><rect x="355" y="100" width="35" height="15"/>
  </g>
  <path fill="#6e6e6e" d="M0,930 L160,940 L300,890 L640,890 L830,870 L940,870 L980,900 L990,990 L900,1010 L800,1050 L800,1110 L580,1140 L600,1330 L640,1530 L440,1530 L400,1400 L300,1300 L160,1000 L0,975 Z"/>
  <rect x="0" y="840" width="50" height="100" fill="#6e6e6e"/>
  <path fill="#3c3c3c" d="M0,940 L160,940 L160,1000 L0,970 Z"/>
  <path fill="#3c3c3c" d="M160,1000 L240,1000 L280,1030 L350,1010 L380,1040 L460,1050 L460,1100 L400,1100 L410,1160 L490,1200 L500,1300 L470,1340 L380,1345 L380,1480 L330,1520 L240,1500 L200,1460 L150,1440 L170,1400 L230,1340 L240,1290 L200,1210 L130,1150 L120,1070 L160,1040 Z"/>
  <path fill="#c4c4c4" d="M0,975 L100,975 L120,1070 L130,1150 L200,1210 L240,1290 L230,1340 L170,1400 L150,1440 L200,1460 L240,1500 L330,1520 L0,1520 Z"/>
  <rect x="485" y="1012" width="35" height="28" fill="#3c3c3c"/>
  <path fill="#000" d="M1570,940 L1500,970 L1440,1000 L1380,1040 L1330,1090 L1300,1150 L1290,1210 L1200,1240 L1150,1270 L1140,1330 L1060,1360 L1030,1390 L1030,1460 L1050,1520 L1090,1550 L1570,1550 Z"/>
  <path fill="#000" d="M1240,940 L1290,910 L1390,910 L1365,1000 L1340,1060 L1245,1090 L1210,1060 L1240,1000 Z"/>
  <rect x="1150" y="905" width="70" height="30" fill="#000"/>
  <g fill="#a0a0a0"><rect x="1405" y="1215" width="35" height="30"/><rect x="1440" y="1432" width="35" height="28"/><rect x="1412" y="1462" width="33" height="28"/><rect x="1115" y="1515" width="35" height="35"/></g>
  <path fill="#fff" d="M0,1520 L640,1530 L1100,1545 L1100,1570 L0,1570 Z"/>
  <rect x="1525" y="1528" width="45" height="40" fill="#fff"/>
 </g>
</g>
<rect x="983" y="917" width="179" height="31" rx="5" fill="#000"/>
<text x="991" y="940" font-size="20.5" font-weight="bold" fill="#fff">WMG Count: 0</text>
<rect x="969" y="903" width="753" height="753" fill="none" stroke="#000" stroke-width="2.5"/>
</svg>
</body></html>
